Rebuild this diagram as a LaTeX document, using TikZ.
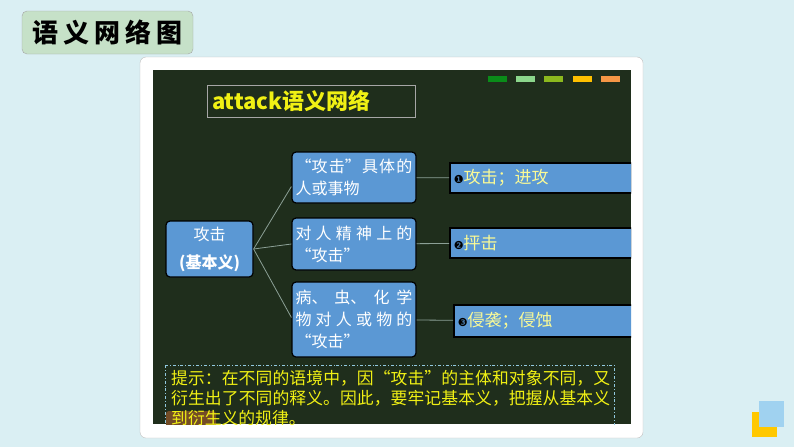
\documentclass[tikz,border=0pt]{standalone}
\usepackage{fontspec}
\setmainfont{Noto Sans CJK SC}
\newfontfamily\symfont{DejaVu Sans}
\XeTeXlinebreaklocale "zh"
\XeTeXlinebreakskip=0pt plus 2pt

\definecolor{bgcyan}{RGB}{218,239,243}
\definecolor{titlegreen}{RGB}{198,225,200}
\definecolor{board}{RGB}{31,46,28}
\definecolor{nodeblue}{RGB}{91,152,212}
\definecolor{senseyellow}{RGB}{250,250,150}
\definecolor{hintyellow}{RGB}{240,240,20}
\definecolor{linegray}{RGB}{140,160,150}
\definecolor{barA}{RGB}{10,140,25}
\definecolor{barB}{RGB}{140,215,140}
\definecolor{barC}{RGB}{140,185,30}
\definecolor{barD}{RGB}{255,192,0}
\definecolor{barE}{RGB}{245,150,70}
\definecolor{cornerblue}{RGB}{160,210,240}
\definecolor{corneryellow}{RGB}{255,200,0}

\begin{document}
\begin{tikzpicture}[x=1pt, y=-1pt,
    mid/.style={fill=nodeblue, draw=black, line width=1.2pt, rounded corners=4pt,
      text=white, minimum width=124pt, text width=117pt, inner sep=3pt,
      align=justify, font=\fontsize{16}{22}\selectfont},
    sense/.style={fill=nodeblue, draw=black, line width=1.5pt, anchor=west,
      minimum height=30pt, text width=174pt, align=left, inner xsep=4pt,
      text=senseyellow, font=\fontsize{17}{20}\selectfont},
    link/.style={draw=linegray, line width=0.8pt}]
  \useasboundingbox (0,0) rectangle (794,447);
  \fill[bgcyan] (0,0) rectangle (794,447);

  % title tab
  \node[fill=titlegreen, draw=gray!70, rounded corners=5pt, minimum width=171pt,
    minimum height=43pt, font=\fontsize{26}{26}\selectfont\bfseries] (title) at (107.5,32.5)
    {语\hspace{5pt}义\hspace{5pt}网\hspace{5pt}络\hspace{5pt}图};

  % white panel and board
  \draw[fill=white, draw=gray!50, rounded corners=6pt] (140,57) rectangle (643,438);
  \fill[board] (153,70) rectangle (631,424);

  \begin{scope}
    \clip (153,70) rectangle (631,424);

    % colour bars
    \foreach \c [count=\i] in {barA,barB,barC,barD,barE}
      \fill[\c] (488+28.2*\i-28.2,76) rectangle ++(19,6);

    \node[draw=gray!70, line width=0.6pt, minimum width=208pt, minimum height=32pt,
      text width=198pt, align=left, text=hintyellow,
      font=\fontsize{22}{22}\selectfont\bfseries] (head) at (311,101) {attack语义网络};

    % Nodes with manual coordinates
    \node[fill=nodeblue, draw=black, line width=1.2pt, rounded corners=4pt, text=white,
      minimum width=87pt, minimum height=56pt, align=center,
      font=\fontsize{16}{28}\selectfont] (base) at (209.5,249) {攻击\\\textbf{(基本义)}};

    \node[mid, minimum height=51pt] (ctx1) at (354,177.5) {“攻击”具体的\linebreak 人或事物};
    \node[mid, minimum height=52pt] (ctx2) at (354,244) {对人精神上的\linebreak “攻击”};
    \node[mid, minimum height=75pt] (ctx3) at (354,319.5)
      {病、虫、化学\linebreak 物对人或物的\linebreak “攻击”};

    \node[sense] (sense1) at (449,178) {{\symfont\fontsize{11}{11}\selectfont\color{black}❶}攻击；进攻};
    \node[sense] (sense2) at (449,243) {{\symfont\fontsize{11}{11}\selectfont\color{black}❷}抨击};
    \node[sense, minimum height=32pt] (sense3) at (453,321)
      {{\symfont\fontsize{11}{11}\selectfont\color{black}❸}侵袭；侵蚀};

    % Edges
    \draw[link] (base.east) -- ([yshift=-9pt]ctx1.west);
    \draw[link] (base.east) -- (ctx2.west);
    \draw[link] (base.east) -- ([yshift=2pt]ctx3.west);
    \draw[link] (ctx1) -- (sense1);
    \draw[link] (ctx2) -- (sense2);
    \draw[link] (ctx3) -- (sense3);

    % hint
    \fill[brown!60!black, rounded corners=3pt] (166,411) rectangle (216,430);
    \draw[draw=gray!40!cyan!60, line width=0.8pt, dash dot] (165,365) rectangle (614,440);
    \node[anchor=north west, inner sep=0pt, text width=439pt, align=justify,
      text=hintyellow, font=\fontsize{16.8}{20}\selectfont] (hint) at (171,370)
      {提示：在不同的语境中，因“攻击”的主体和对象不同，又\linebreak
       衍生出了不同的释义。因此，要牢记基本义，把握从基本义\linebreak
       到衍生义的规律。};
  \end{scope}

  % corner squares
  \fill[corneryellow] (752,412) rectangle (777,437);
  \fill[cornerblue] (759,401) rectangle (784,427);
\end{tikzpicture}
\end{document}
